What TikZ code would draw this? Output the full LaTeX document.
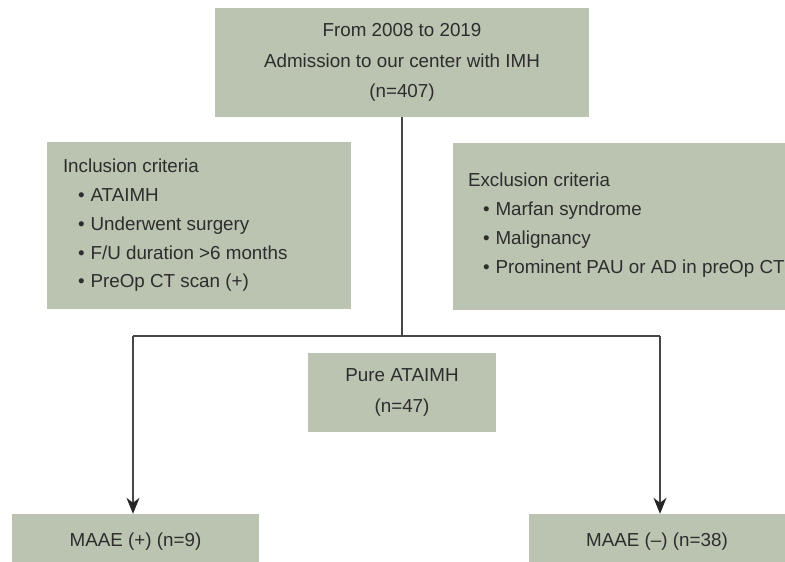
\documentclass[tikz,border=0pt]{standalone}
\usepackage{fontspec}
\setmainfont{Liberation Sans}
\usetikzlibrary{arrows.meta,calc}
\definecolor{boxgreen}{RGB}{186,196,177}
\definecolor{txtgray}{RGB}{45,45,45}
\definecolor{linegray}{RGB}{70,70,70}
\tikzset{
  greenbox/.style={fill=boxgreen, draw=none, inner sep=0pt, text=txtgray,
    font=\fontsize{18.8}{30.5}\selectfont},
  listtext/.style={inner sep=0pt, align=left, text=txtgray,
    font=\fontsize{18.8}{28.8}\selectfont},
  conn/.style={draw=linegray, line width=1.3pt},
  arrowconn/.style={conn, -{Stealth[length=16pt,width=13pt,inset=5pt,color=black!85]}}
}
\newcommand{\bul}{\hspace*{15pt}\textbullet\hspace{6pt}}
\begin{document}
\begin{tikzpicture}[x=1pt,y=-1pt]
\useasboundingbox (0,0) rectangle (785,562);
\node[greenbox, minimum width=374pt, minimum height=109pt, align=center] (top) at (402,62.5)
  {From 2008 to 2019\\Admission to our center with IMH\\(n=407)};
\node[greenbox, minimum width=304pt, minimum height=167pt] (inc) at (199,225.5) {};
\node[listtext, anchor=west] (inctxt) at ($(inc.west)+(16,0)$)
  {Inclusion criteria\\\bul ATAIMH\\\bul Underwent surgery\\\bul F/U duration >6 months\\\bul PreOp CT scan (+)};
\node[greenbox, minimum width=332pt, minimum height=167pt] (exc) at (619,226.5) {};
\node[listtext, anchor=west] (exctxt) at ($(exc.west)+(15,-1.5)$)
  {Exclusion criteria\\\bul Marfan syndrome\\\bul Malignancy\\\bul Prominent PAU or AD in preOp CT};
\node[greenbox, minimum width=188pt, minimum height=79pt, align=center] (pure) at (402,392.5)
  {Pure ATAIMH\\(n=47)};
\node[greenbox, minimum width=247pt, minimum height=56pt] (mpos) at (135.5,542) {MAAE (+) (n=9)};
\node[greenbox, minimum width=256pt, minimum height=56pt] (mneg) at (657,542) {MAAE (–) (n=38)};
\coordinate (split) at (402,336);
\coordinate (jl) at (133,336);
\coordinate (jr) at (660,336);
\draw[conn] (top.south) -- (split);
\draw[conn] (jl) -- (jr);
\draw[arrowconn] (jl) -- (jl |- mpos.north);
\draw[arrowconn] (jr) -- (jr |- mneg.north);
\end{tikzpicture}
\end{document}
